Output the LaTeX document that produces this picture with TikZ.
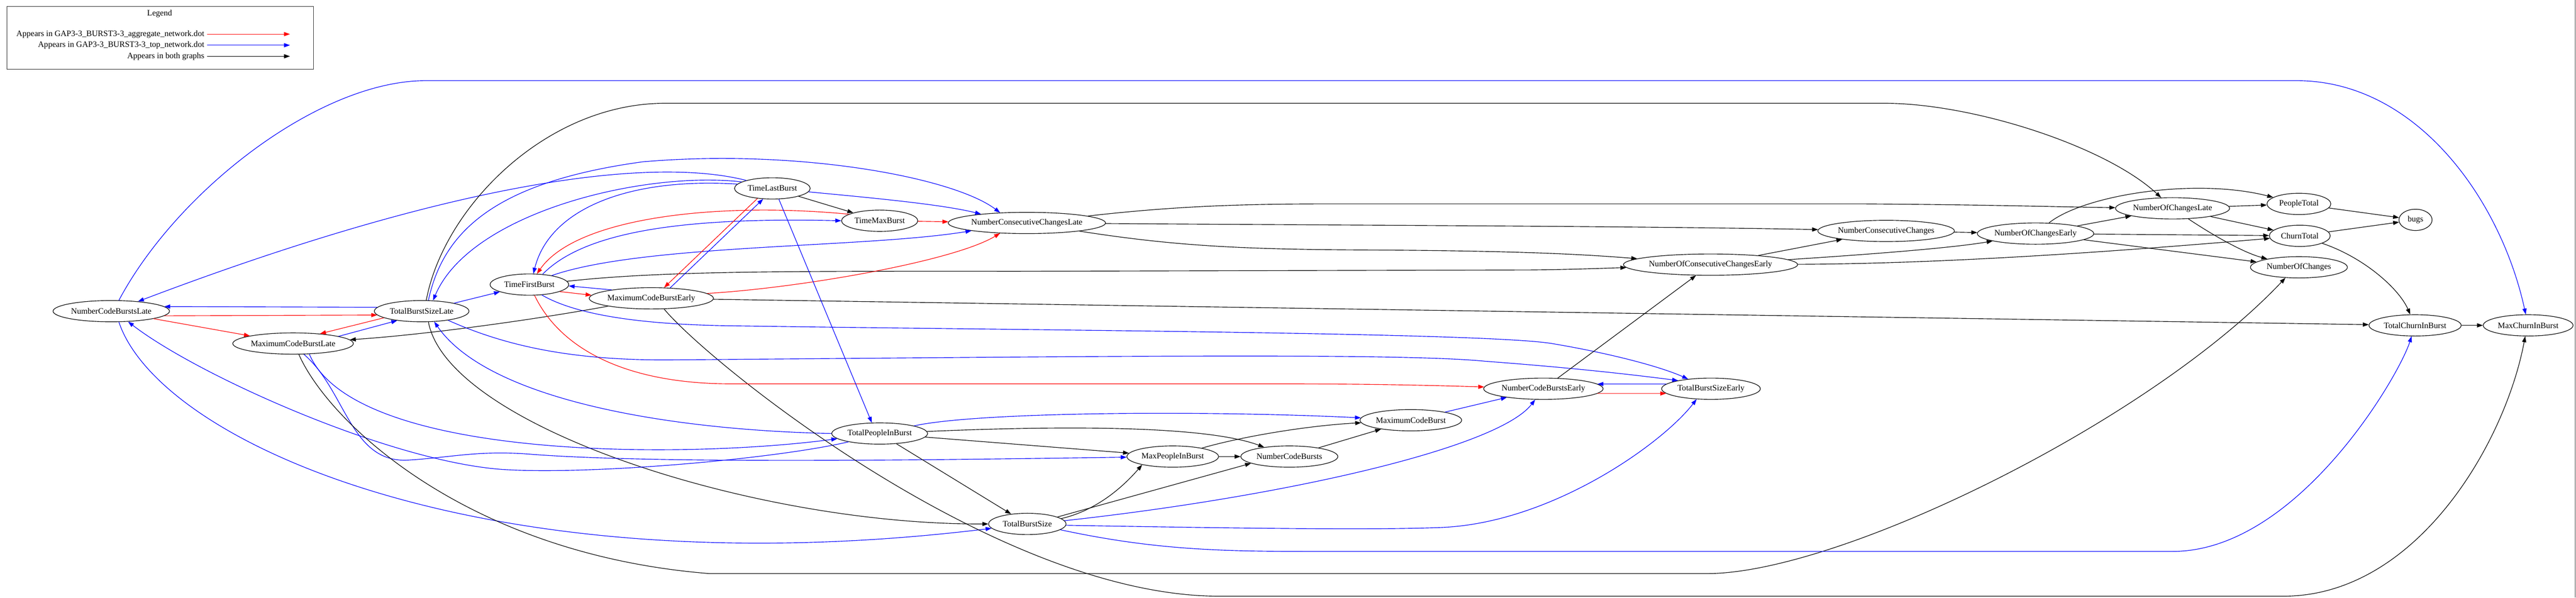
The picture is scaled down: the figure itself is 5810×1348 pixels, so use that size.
\documentclass[tikz,border=0pt]{standalone}
\usepackage{fontspec}
\setmainfont{Liberation Serif}
\usetikzlibrary{shapes.geometric,arrows.meta}
\newcommand{\fsz}{\fontsize{14}{17}\selectfont}
\begin{document}
\begin{tikzpicture}[x=0.75pt,y=-0.75pt,
  nd/.style={ellipse,draw,line width=1pt,minimum height=36pt,inner sep=0pt,font=\fsz},
  tip/.style={-{Triangle[length=10pt,width=7pt]}},
  eb/.style={tip,draw=black,line width=1pt},
  er/.style={tip,draw=red,line width=1pt},
  eu/.style={tip,draw=blue,line width=1pt},
  lg/.style={font=\fsz,inner sep=0pt,anchor=east}]
\useasboundingbox (0,0) rectangle (5810,1348);
% ---------- legend ----------
\draw[line width=1pt,black!80] (16,15) rectangle (707,156);
\node[font=\fsz,inner sep=0pt] (lgt) at (360,31) {Legend};
\node[lg] (l1) at (461,77) {Appears in GAP3-3\_BURST3-3\_aggregate\_network.dot};
\node[lg] (l2) at (461,102) {Appears in GAP3-3\_BURST3-3\_top\_network.dot};
\node[lg] (l3) at (461,127) {Appears in both graphs};
\coordinate (l1b) at (654,77);
\coordinate (l2b) at (654,102);
\coordinate (l3b) at (654,127);
\draw[er] ([xshift=5pt]l1.east) -- (l1b);
\draw[eu] ([xshift=5pt]l2.east) -- (l2b);
\draw[eb] ([xshift=5pt]l3.east) -- (l3b);
\draw[line width=0.8pt,black!70] (5808,0) -- (5808,1348);
% ---------- nodes ----------
\node[nd,minimum width=197pt] (NCBL) at (251,702) {NumberCodeBurstsLate};
\node[nd,minimum width=160pt] (TBSL) at (951,702) {TotalBurstSizeLate};
\node[nd,minimum width=204pt] (MCBL) at (661,775) {MaximumCodeBurstLate};
\node[nd,minimum width=133pt] (TFB) at (1194,642) {TimeFirstBurst};
\node[nd,minimum width=209pt] (MCBE) at (1469,673) {MaximumCodeBurstEarly};
\node[nd,minimum width=128pt] (TLB) at (1742,425) {TimeLastBurst};
\node[nd,minimum width=129pt] (TMB) at (1984,498) {TimeMaxBurst};
\node[nd,minimum width=264pt] (NCCL) at (2316,503) {NumberConsecutiveChangesLate};
\node[nd,minimum width=288pt] (NOCCE) at (3858,597) {NumberOfConsecutiveChangesEarly};
\node[nd,minimum width=231pt] (NCC) at (4254,521) {NumberConsecutiveChanges};
\node[nd,minimum width=197pt] (NOCE) at (4591,527) {NumberOfChangesEarly};
\node[nd,minimum width=193pt] (NOCL) at (4900,470) {NumberOfChangesLate};
\node[nd,minimum width=108pt] (PT) at (5185,460) {PeopleTotal};
\node[nd,minimum width=56pt] (bugs) at (5448,496) {bugs};
\node[nd,minimum width=103pt] (CT) at (5187,532) {ChurnTotal};
\node[nd,minimum width=164pt] (NOC) at (5185,603) {NumberOfChanges};
\node[nd,minimum width=156pt] (TCIB) at (5447,734) {TotalChurnInBurst};
\node[nd,minimum width=152pt] (MCIB) at (5702,734) {MaxChurnInBurst};
\node[nd,minimum width=202pt] (NCBE) at (3481,877) {NumberCodeBurstsEarly};
\node[nd,minimum width=167pt] (TBSE) at (3859,877) {TotalBurstSizeEarly};
\node[nd,minimum width=172pt] (MCB) at (3182,948) {MaximumCodeBurst};
\node[nd,minimum width=162pt] (TPIB) at (1984,978) {TotalPeopleInBurst};
\node[nd,minimum width=155pt] (MPIB) at (2645,1030) {MaxPeopleInBurst};
\node[nd,minimum width=164pt] (NCB) at (2908,1030) {NumberCodeBursts};
\node[nd,minimum width=131pt] (TBS) at (2317,1182) {TotalBurstSize};
% ---------- left cluster ----------
\draw[eu] (TBSL.175) -- (NCBL.5);
\draw[er] (NCBL.-5) -- (TBSL.-175);
\draw[er] (NCBL) -- (MCBL);
\draw[er] (TBSL.190) -- (MCBL.20);
\draw[eu] (MCBL.9) -- (TBSL.201);
\draw[eb] (MCBE) .. controls (1200,722) and (960,755) .. (MCBL);
\draw[eu] (TBSL) -- (TFB);
\draw[eu] (TLB.168) .. controls (1450,385) and (1060,480) .. (TBSL.43);
\draw[eu] (TLB.163) .. controls (1480,355) and (1050,400) .. (NCBL.20);
\draw[eu] (TBSL.58) .. controls (1000,520) and (1120,410) .. (1450,365)
   .. controls (1800,335) and (2150,400) .. (NCCL.159);
\draw[eu] (TLB.173) .. controls (1420,400) and (1240,470) .. (TFB.70);
\draw[er] (TMB.168) .. controls (1620,455) and (1300,490) .. (TFB.55);
\draw[eu] (TFB.38) .. controls (1320,520) and (1550,490) .. (TMB.west);
\draw[eu] (TFB.22) .. controls (1450,550) and (1950,560) .. (NCCL.188);
\draw[eb] (TFB.5) .. controls (1500,610) and (1800,612) .. (2300,612) -- (3450,609)
   .. controls (3550,608) and (3620,605) .. (NOCCE.182);
\draw[er] (TFB.-13) -- (MCBE.177);
\draw[eu] (MCBE.168) -- (TFB.-2);
\draw[er] (MCBE.5) .. controls (1800,650) and (2150,590) .. (NCCL.201);
\draw[er] (TLB.214) -- (MCBE.40);
\draw[eu] (MCBE.29) -- (TLB.229);
\draw[eb] (TLB) -- (TMB);
\draw[er] (TMB) -- (NCCL);
\draw[eu] (TLB) .. controls (1950,445) and (2120,460) .. (NCCL.169);
% ---------- long arcs ----------
\draw[eb] (TBSL.67) .. controls (1000,470) and (1230,233) .. (1500,233) -- (4250,233)
   .. controls (4450,233) and (4750,330) .. (NOCL);
\draw[eu] (NCBL.55) .. controls (400,430) and (720,182) .. (960,182) -- (5180,182)
   .. controls (5450,182) and (5640,450) .. (MCIB);
\draw[eb] (TBSL.-58) .. controls (1010,960) and (1700,1184) .. (TBS.west);
\draw[eu] (NCBL.-55) .. controls (360,1000) and (1100,1330) .. (TBS.187);
\draw[eu] (TPIB.195) .. controls (1750,1035) and (1350,1070) .. (1150,1060)
   .. controls (900,1050) and (450,850) .. (NCBL.-32);
\draw[eu] (TPIB.west) .. controls (1500,970) and (1100,900) .. (TBSL.-40);
\draw[eu] (MCBL.-33) .. controls (800,1040) and (1550,1035) .. (TPIB.187);
\draw[eu] (MCBL.-45) .. controls (780,880) and (790,1045) .. (920,1038)
   .. controls (1020,1032) and (1080,1015) .. (1200,1025)
   .. controls (1500,1048) and (2200,1036) .. (MPIB);
\draw[eb] (MCBL.-62) .. controls (740,950) and (1050,1250) .. (1600,1294) -- (3850,1294)
   .. controls (4150,1294) and (4850,950) .. (NOC.218);
\draw[eb] (MCBE.-40) .. controls (1600,820) and (2250,1345) .. (2750,1345) -- (5150,1345)
   .. controls (5450,1345) and (5650,1000) .. (MCIB.-105);
\draw[eb] (MCBE) -- (TCIB);
\draw[er] (TFB) .. controls (1260,780) and (1400,866) .. (1650,866) -- (2900,866)
   .. controls (3100,866) and (3250,870) .. (NCBE);
\draw[eu] (TFB.-40) .. controls (1290,705) and (1420,732) .. (1650,735)
   .. controls (2300,745) and (3350,750) .. (3500,775)
   .. controls (3620,795) and (3740,825) .. (TBSE.157);
\draw[eu] (TBSL.-19) .. controls (1150,785) and (1300,812) .. (1500,812)
   .. controls (2400,805) and (3150,795) .. (3350,815)
   .. controls (3550,830) and (3680,845) .. (TBSE.166);
% ---------- bottom middle ----------
\draw[eu] (TLB.-59) -- (TPIB.126);
\draw[eu] (TPIB) .. controls (2200,930) and (2700,925) .. (MCB);
\draw[eb] (TPIB) .. controls (2400,960) and (2720,960) .. (NCB);
\draw[eb] (TPIB) -- (MPIB);
\draw[eb] (TPIB) -- (TBS);
\draw[eb] (TBS.9) .. controls (2480,1150) and (2540,1090) .. (MPIB.195);
\draw[eb] (TBS.13) -- (NCB.190);
\draw[eu] (TBS.5) .. controls (2900,1120) and (3380,1010) .. (NCBE);
\draw[eu] (TBS.-2) .. controls (2800,1192) and (3100,1196) .. (3250,1190)
   .. controls (3500,1180) and (3750,1000) .. (TBSE.216);
\draw[eu] (TBS.-10) .. controls (2600,1240) and (2750,1244) .. (2950,1244) -- (4900,1244)
   .. controls (5180,1244) and (5410,850) .. (TCIB);
\draw[eb] (MPIB) -- (NCB);
\draw[eb] (MPIB) .. controls (2800,985) and (2950,960) .. (MCB);
\draw[eb] (NCB) -- (MCB);
\draw[eu] (MCB) -- (NCBE);
\draw[eu] (TBSE.174) -- (NCBE.5);
\draw[er] (NCBE.-5) -- (TBSE.-174);
\draw[eb] (NCBE) -- (NOCCE);
% ---------- right cluster ----------
\draw[eb] (NCCL) .. controls (3000,508) and (3700,510) .. (NCC);
\draw[eb] (NCCL) .. controls (2650,465) and (2800,460) .. (3000,460) -- (4200,460)
   .. controls (4500,462) and (4650,467) .. (NOCL);
\draw[eb] (NCCL) .. controls (2650,555) and (2800,563) .. (3100,564)
   .. controls (3400,566) and (3550,572) .. (NOCCE);
\draw[eb] (NOCCE) -- (NCC);
\draw[eb] (NOCCE) .. controls (4200,575) and (4400,560) .. (NOCE);
\draw[eb] (NOCCE) .. controls (4400,595) and (4800,565) .. (CT);
\draw[eb] (NCC) -- (NOCE);
\draw[eb] (NOCE) -- (NOCL);
\draw[eb] (NOCE) .. controls (4700,440) and (4950,400) .. (PT);
\draw[eb] (NOCE) -- (CT);
\draw[eb] (NOCE) -- (NOC);
\draw[eb] (NOCL) -- (PT);
\draw[eb] (NOCL) -- (CT);
\draw[eb] (NOCL) .. controls (4990,530) and (5060,570) .. (NOC);
\draw[eb] (PT) -- (bugs);
\draw[eb] (CT) -- (bugs);
\draw[eb] (CT) .. controls (5330,580) and (5410,650) .. (TCIB);
\draw[eb] (TCIB) -- (MCIB);
\end{tikzpicture}
\end{document}
